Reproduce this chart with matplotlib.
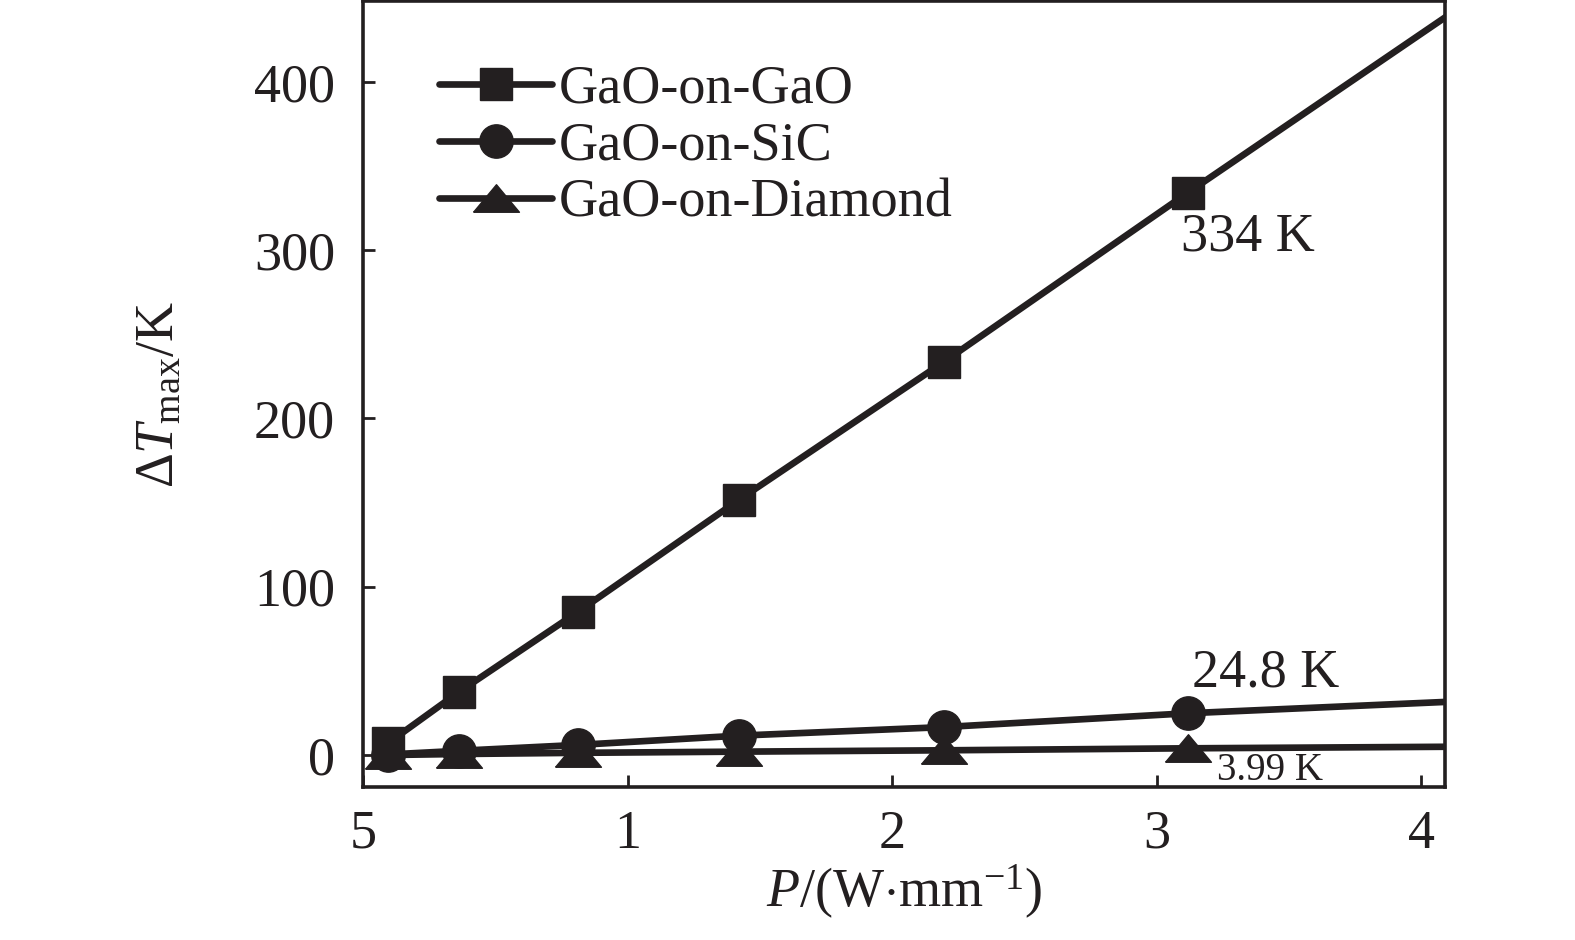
import matplotlib
matplotlib.use("Agg")
import matplotlib.pyplot as plt

plt.rcParams["font.family"] = "Liberation Serif"
plt.rcParams["mathtext.fontset"] = "custom"
plt.rcParams["mathtext.rm"] = "Liberation Serif"
plt.rcParams["mathtext.it"] = "Liberation Serif:italic"

# power (W/mm) and max temperature rise (K); last point lies past the axis edge
power = [0.094, 0.363, 0.812, 1.42, 2.195, 3.117, 4.2]
dT_gao = [7, 37.5, 85, 151.5, 233.5, 334, 450]
dT_sic = [0.3, 2.5, 6, 11.5, 16.6, 24.8, 32.3]
dT_dia = [0.0, 0.6, 1.3, 2.0, 2.8, 3.99, 5.0]
labels = ["GaO-on-GaO", "GaO-on-SiC", "GaO-on-Diamond"]
xticks = [0, 1, 2, 3, 4]
xticklabels = ["5", "1", "2", "3", "4"]
yticks = [0, 100, 200, 300, 400]

ink = "#231f20"
flat_tri = [(-1, -0.6), (1, -0.6), (0, 0.6), (-1, -0.6)]

fig = plt.figure(figsize=(15.75, 9.4), dpi=100)
ax = fig.add_axes([363 / 1575, 1 - 787 / 940, (1445 - 363) / 1575, (787 - 1.5) / 940])

n = len(power) - 1
kw = dict(color=ink, lw=4.8, markevery=list(range(n)), solid_capstyle="round")
ax.plot(power, dT_gao, marker="s", ms=23, label=labels[0], **kw)
ax.plot(power, dT_sic, marker="o", ms=24, label=labels[1], **kw)
ax.plot(power, dT_dia, marker=flat_tri, ms=33, label=labels[2], **kw)

ax.set_xlim(0, 4.09)
ax.set_ylim(-19, 447.7)
ax.set_xticks(xticks)
ax.set_xticklabels(xticklabels)
ax.set_yticks(yticks)
ax.tick_params(direction="in", length=8.5, width=2, labelsize=39, colors=ink)
ax.tick_params(axis="x", pad=16)
ax.tick_params(axis="y", pad=20)
for s in ax.spines.values():
    s.set_linewidth(2.6)
    s.set_color(ink)

ax.set_xlabel(r"$P$/(W$\cdot$mm$^{-1}$)", fontsize=39, color=ink, labelpad=2)
ax.set_ylabel(r"$\Delta T_{\rm max}$/K", fontsize=39, color=ink)
ax.yaxis.set_label_coords(-0.165, 0.5)

ax.annotate("334 K", (power[5], dT_gao[5]), xytext=(60, -44), textcoords="offset pixels",
            ha="center", va="center", fontsize=39, color=ink)
ax.annotate("24.8 K", (power[5], dT_sic[5]), xytext=(78, 40), textcoords="offset pixels",
            ha="center", va="center", fontsize=39, color=ink)
ax.annotate("3.99 K", (power[5], dT_dia[5]), xytext=(82, -22), textcoords="offset pixels",
            ha="center", va="center", fontsize=28, color=ink)

ax.legend(loc="upper left", bbox_to_anchor=(0.07, 0.92), frameon=False, fontsize=39,
          handlelength=2.1, handletextpad=0.12, labelspacing=0.12, borderpad=0,
          borderaxespad=0, labelcolor=ink)

fig.savefig("out.png", dpi=100)
